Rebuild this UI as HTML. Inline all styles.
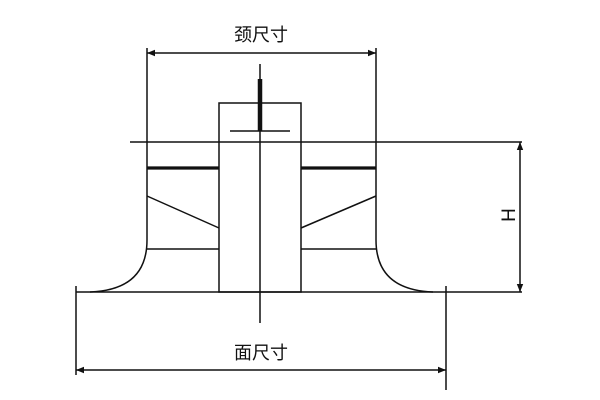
<!DOCTYPE html><html><head><style>body{margin:0;background:#fff}svg{display:block}text{font-family:"Liberation Sans","Noto Sans CJK SC",sans-serif;fill:#111}</style></head><body>
<svg width="600" height="400" viewBox="0 0 600 400" stroke="#111" fill="none" stroke-width="1.5">
<defs><marker id="a" viewBox="0 0 10 10" refX="10" refY="5" markerWidth="13" markerHeight="8" markerUnits="userSpaceOnUse" orient="auto-start-reverse"><path d="M0,1L10,5L0,9z" fill="#111" stroke="none"/></marker></defs>
<text x="261" y="41" font-size="18" text-anchor="middle" stroke="none">颈尺寸</text>
<line x1="147" y1="53" x2="376" y2="53" marker-start="url(#a)" marker-end="url(#a)"/>
<path d="M147,48V240Q147,290 90,292"/>
<path d="M376,48V240Q376,290 433,292"/>
<line x1="130" y1="142" x2="522" y2="142"/>
<line x1="76" y1="292" x2="522" y2="292"/>
<rect x="219" y="103" width="82" height="189"/>
<line x1="260" y1="64" x2="260" y2="323"/>
<line x1="260" y1="79" x2="260" y2="131" stroke-width="4.5"/>
<line x1="230" y1="131" x2="290" y2="131"/>
<g stroke-width="3.2"><line x1="147" y1="168" x2="219" y2="168"/><line x1="301" y1="168" x2="376" y2="168"/></g>
<line x1="147" y1="196" x2="219" y2="228"/><line x1="301" y1="228" x2="376" y2="196"/>
<line x1="147" y1="249" x2="219" y2="249"/><line x1="301" y1="249" x2="376" y2="249"/>
<line x1="520" y1="142" x2="520" y2="292" marker-start="url(#a)" marker-end="url(#a)"/>
<text x="0" y="0" font-size="19" text-anchor="middle" stroke="none" transform="translate(515,215) rotate(-90)">H</text>
<line x1="76" y1="286" x2="76" y2="375"/>
<line x1="446" y1="286" x2="446" y2="390"/>
<line x1="76" y1="370" x2="446" y2="370" marker-start="url(#a)" marker-end="url(#a)"/>
<text x="261" y="359" font-size="18" text-anchor="middle" stroke="none">面尺寸</text>
</svg></body></html>
